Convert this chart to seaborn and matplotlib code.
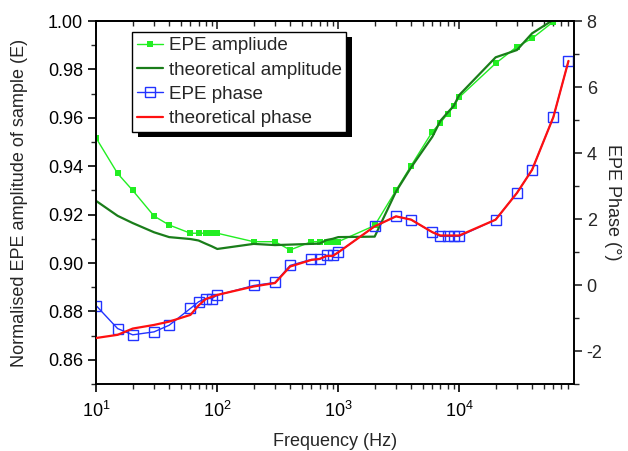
import numpy as np
import pandas as pd
import seaborn as sns
import matplotlib
matplotlib.use("Agg")
import matplotlib.pyplot as plt
from matplotlib.ticker import LogLocator, MultipleLocator, FormatStrFormatter, NullFormatter
from matplotlib.patches import Rectangle
from matplotlib.lines import Line2D

# ---------------- data ----------------
freq = [10, 15, 20, 30, 40, 60, 70, 80, 90, 100, 200, 300, 400, 600, 700, 800, 900,
        1000, 2000, 3000, 4000, 6000, 7000, 8000, 9000, 10000, 20000, 30000, 40000,
        60000, 80000]
epe_amplitude = [0.9515, 0.937, 0.930, 0.9194, 0.9157, 0.9123, 0.9123, 0.9123, 0.9123,
                 0.9123, 0.9088, 0.9088, 0.9054, 0.9088, 0.9088, 0.9088, 0.9088,
                 0.9088, 0.9155, 0.930, 0.9402, 0.9543, 0.958, 0.9616, 0.9649, 0.9685,
                 0.9825, 0.9894, 0.9928, 0.9997, 1.008]
theo_amplitude = [0.9256, 0.9195, 0.9165, 0.9127, 0.9107, 0.9099, 0.9093, 0.9080, 0.9069,
                  0.9058, 0.9079, 0.9074, 0.9076, 0.9079, 0.9080, 0.9095, 0.9100,
                  0.9107, 0.9109, 0.9295, 0.9395, 0.9522, 0.9588, 0.9621, 0.9649, 0.9694,
                  0.985, 0.988, 0.9949, 1.0005, 1.010]
epe_phase = [-0.63, -1.32, -1.51, -1.42, -1.22, -0.71, -0.51, -0.41, -0.41, -0.31,
             -0.015, 0.076, 0.593, 0.775, 0.775, 0.897, 0.897, 0.988, 1.778, 2.082,
             1.982, 1.596, 1.474, 1.474, 1.474, 1.474, 1.982, 2.79, 3.49, 5.09, 6.79]
theo_phase = [-1.605, -1.51, -1.32, -1.21, -1.11, -0.906, -0.62, -0.43, -0.36, -0.30,
              -0.045, 0.06, 0.56, 0.76, 0.79, 0.88, 0.88, 0.99, 1.778, 2.08, 1.98,
              1.60, 1.50, 1.50, 1.50, 1.50, 1.98, 2.79, 3.49, 5.09, 6.79]

labels = ["EPE ampliude", "theoretical amplitude", "EPE phase", "theoretical phase"]
x_label = "Frequency (Hz)"
y_label = "Normalised EPE amplitude of sample (E)"
y2_label = "EPE Phase (\u00b0)"

df = pd.DataFrame({"freq": freq, "epe_amp": epe_amplitude, "theo_amp": theo_amplitude,
                   "epe_phase": epe_phase, "theo_phase": theo_phase})

# ---------------- style ----------------
sns.set_style("ticks")
plt.rcParams["font.family"] = ["Liberation Sans", "DejaVu Sans"]
plt.rcParams["mathtext.fontset"] = "custom"
plt.rcParams["mathtext.rm"] = "Liberation Sans"
plt.rcParams["mathtext.it"] = "Liberation Sans:italic"
plt.rcParams["axes.unicode_minus"] = False
plt.rcParams["axes.linewidth"] = 1.2

c_light = "#22ee22"
c_dark = "#1a7d1a"
c_blue = "#2233ff"
c_red = "#ff1010"

fig = plt.figure(figsize=(6.28, 4.51), dpi=100)
ax = fig.add_axes([96.3 / 628, 1 - 384 / 451, (573.5 - 96.3) / 628, (384 - 21) / 451])
ax2 = ax.twinx()

sns.lineplot(data=df, x="freq", y="epe_amp", ax=ax, color=c_light, lw=1.0,
             marker="s", markersize=4, markeredgewidth=0, estimator=None, sort=False)
sns.lineplot(data=df, x="freq", y="theo_amp", ax=ax, color=c_dark, lw=1.6,
             estimator=None, sort=False)
sns.lineplot(data=df, x="freq", y="epe_phase", ax=ax2, color=c_blue, lw=1.0,
             marker="s", markersize=7.5, markerfacecolor="none", markeredgecolor=c_blue,
             markeredgewidth=1.0, estimator=None, sort=False, zorder=2)
sns.lineplot(data=df, x="freq", y="theo_phase", ax=ax2, color=c_red, lw=1.6,
             estimator=None, sort=False, zorder=3)

ax.set_xscale("log")
ax.set_xlim(10, 8.8e4)
ax.set_ylim(0.85, 1.00)
ax2.set_ylim(-3, 8)

fs = 13
ax.yaxis.set_major_locator(MultipleLocator(0.02))
ax.yaxis.set_minor_locator(MultipleLocator(0.01))
ax.yaxis.set_major_formatter(FormatStrFormatter("%.2f"))
ax2.yaxis.set_major_locator(MultipleLocator(2))
ax2.yaxis.set_minor_locator(MultipleLocator(1))
ax.xaxis.set_major_locator(LogLocator(base=10, numticks=10))
ax.xaxis.set_minor_locator(LogLocator(base=10, subs=np.arange(2, 10), numticks=20))
ax.xaxis.set_minor_formatter(NullFormatter())

ax.tick_params(axis="both", which="major", direction="out", length=6, width=1.2,
               labelsize=fs, colors="black")
ax.tick_params(axis="x", which="major", pad=6)
ax.tick_params(axis="both", which="minor", direction="out", length=3.5, width=1.0)
ax.tick_params(axis="y", right=False, which="both")
ax2.tick_params(axis="y", which="major", direction="out", length=6, width=1.2, labelsize=fs)
ax2.tick_params(axis="y", which="minor", direction="out", length=3.5, width=1.0)
for a in (ax, ax2):
    for s in a.spines.values():
        s.set_visible(True)
        s.set_linewidth(1.2)
        s.set_color("black")

top = ax.secondary_xaxis("top")
top.xaxis.set_major_locator(LogLocator(base=10, numticks=10))
top.xaxis.set_minor_locator(LogLocator(base=10, subs=np.arange(2, 10), numticks=20))
top.tick_params(axis="x", which="major", direction="in", length=6, width=1.2, labeltop=False)
top.tick_params(axis="x", which="minor", direction="in", length=3.5, width=1.0)
top.xaxis.set_major_formatter(NullFormatter())
top.xaxis.set_minor_formatter(NullFormatter())

ax.set_xlabel(x_label, fontsize=fs, labelpad=9)
ax.set_ylabel(y_label, fontsize=fs, labelpad=14)
ax2.set_ylabel(y2_label, fontsize=fs, rotation=270, labelpad=13)

handles = [
    Line2D([], [], color=c_light, lw=1.0, marker="s", markersize=4, markeredgewidth=0),
    Line2D([], [], color=c_dark, lw=1.6),
    Line2D([], [], color=c_blue, lw=1.0, marker="s", markersize=7.5,
           markerfacecolor="none", markeredgecolor=c_blue),
    Line2D([], [], color=c_red, lw=1.6),
]
leg = ax2.legend(handles, labels, loc="upper left", bbox_to_anchor=(0.0754, 0.969),
                 borderaxespad=0, fontsize=13.6, frameon=True, fancybox=False,
                 edgecolor="black", framealpha=1, handlelength=1.4, handletextpad=0.28,
                 borderpad=0.25, labelspacing=0.38)
leg.get_frame().set_linewidth(1.0)
leg.set_zorder(10)

fig.canvas.draw()
bb = leg.get_window_extent().transformed(ax2.transAxes.inverted())
dx = 6 / ax.get_window_extent().width
dy = 5 / ax.get_window_extent().height
shadow = Rectangle((bb.x0 + dx, bb.y0 - dy), bb.width, bb.height, transform=ax2.transAxes,
                   facecolor="black", edgecolor="none", zorder=9, clip_on=False)
ax2.add_artist(shadow)

fig.savefig("out.png", dpi=100, facecolor="white")
